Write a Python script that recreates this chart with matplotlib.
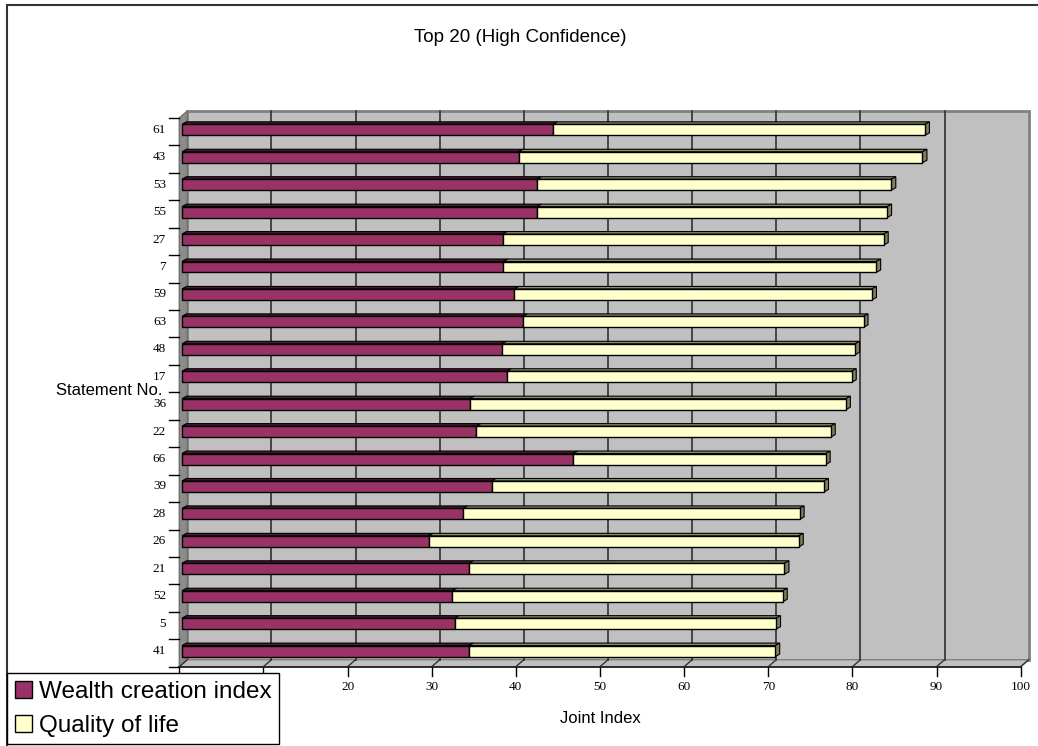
import matplotlib
matplotlib.use('Agg')
import matplotlib.pyplot as plt
import matplotlib.transforms as mtransforms
from matplotlib.patches import Polygon, Rectangle, Patch
import numpy as np

plt.rcParams['font.family'] = ['Liberation Sans', 'DejaVu Sans']

# data (top bar first)
statements = ['61', '43', '53', '55', '27', '7', '59', '63', '48', '17',
              '36', '22', '66', '39', '28', '26', '21', '52', '5', '41']
wealth = [44.1, 40.0, 42.2, 42.2, 38.1, 38.2, 39.5, 40.5, 38.0, 38.6,
          34.2, 35.0, 46.5, 36.8, 33.4, 29.3, 34.1, 32.1, 32.4, 34.1]
joint = [88.3, 88.0, 84.3, 83.8, 83.4, 82.5, 82.0, 81.0, 80.0, 79.6,
         78.9, 77.1, 76.5, 76.3, 73.4, 73.3, 71.6, 71.4, 70.6, 70.5]
quality = [j - w for j, w in zip(joint, wealth)]
xticks = list(range(0, 101, 10))
# 0 and 10 sit under the legend box in the original
xlabels = ['', '', '20', '30', '40', '50', '60', '70', '80', '90', '100']
series_names = ['Wealth creation index', 'Quality of life']

c_wealth = '#993366'
c_quality = '#ffffcc'

W, H = 1038, 746
fig = plt.figure(figsize=(W / 100, H / 100), dpi=100)

# front plane of the 3d box, in pixels
L, R, T, B = 179.3, 1020.7, 118.0, 666.7
ax = fig.add_axes([L / W, (H - B) / H, (R - L) / W, (B - T) / H])
ax.set_xlim(0, 100)
ax.set_ylim(0, len(statements))
ax.axis('off')

DEPTH = (8, 7)        # back wall offset
BF = (2.7, 1.9)       # bar front face offset
BB = (7.2, 4.4)       # bar back face offset
ident = mtransforms.IdentityTransform()


def shift(dx, dy):
    return ax.transData + mtransforms.ScaledTranslation(dx / 100, dy / 100, fig.dpi_scale_trans)


def px(x, y, dx=0, dy=0):
    p = ax.transData.transform((x, y))
    return (p[0] + dx, p[1] + dy)


def poly(pts, fc, ec, lw=1.0, z=1):
    ax.add_patch(Polygon(pts, closed=True, fc=fc, ec=ec, lw=lw, transform=ident,
                         clip_on=False, zorder=z))


n = len(statements)
# walls and floor
poly([px(0, 0, *DEPTH), px(100, 0, *DEPTH), px(100, n, *DEPTH), px(0, n, *DEPTH)],
     '#c0c0c0', '#808080', 2)
poly([px(0, 0), px(0, n), px(0, n, *DEPTH), px(0, 0, *DEPTH)], '#8c8c8c', '#707070', 1)
poly([px(0, 0), px(100, 0), px(100, 0, *DEPTH), px(0, 0, *DEPTH)], '#c0c0c0', '#808080', 1)

for x in xticks[1:-1]:
    ax.plot([x, x], [0, n], transform=shift(*DEPTH), color='#3c3c3c', lw=1.3,
            clip_on=False, zorder=1.5)
for x, lab in zip(xticks, xlabels):
    a, b = px(x, 0), px(x, 0, *DEPTH)
    ax.plot([a[0], b[0]], [a[1], b[1]], transform=ident, color='#333333', lw=1, clip_on=False, zorder=2)
    c = px(x, 0, 0, -9)
    ax.plot([a[0], c[0]], [a[1], c[1]], transform=ident, color='black', lw=1, clip_on=False, zorder=2)
    if lab:
        ax.text(x, 0, lab, transform=shift(0, -23.3), ha='center', va='baseline',
                family='Liberation Serif', fontsize=9.5)
ax.plot([0, 100], [0, 0], color='#222222', lw=1.3, clip_on=False, zorder=2)

# category axis
for k in range(n + 1):
    a, b = px(0, k, -10, 0), px(0, k)
    ax.plot([a[0], b[0]], [a[1], b[1]], transform=ident, color='black', lw=1, clip_on=False, zorder=2)

ypos = np.arange(n)[::-1] + 0.5
h = 0.4
for i, lab in enumerate(statements):
    ax.text(0, ypos[i], lab, transform=shift(-13.3, BF[1]), ha='right', va='center',
            family='Liberation Serif', fontsize=9.5)

# bars
ax.barh(ypos, wealth, height=h, color=c_wealth, edgecolor='black', lw=1,
        transform=shift(*BF), clip_on=False, zorder=4)
ax.barh(ypos, quality, left=wealth, height=h, color=c_quality, edgecolor='black', lw=1,
        transform=shift(*BF), clip_on=False, zorder=4)
for y, w, j in zip(ypos, wealth, joint):
    yt = y + h / 2
    poly([px(0, yt, *BF), px(w, yt, *BF), px(w, yt, *BB), px(0, yt, *BB)], '#4d1a33', 'black', 0.8, 3)
    poly([px(w, yt, *BF), px(j, yt, *BF), px(j, yt, *BB), px(w, yt, *BB)], '#8c8c70', 'black', 0.8, 3)
    poly([px(j, y - h / 2, *BF), px(j, yt, *BF), px(j, yt, *BB), px(j, y - h / 2, *BB)],
         '#808060', 'black', 0.8, 3)

fig.text(520 / W, 1 - 42.3 / H, 'Top 20 (High Confidence)', ha='center', va='baseline', fontsize=13.5)
fig.text(162 / W, 1 - 395 / H, 'Statement No.', ha='right', va='baseline', fontsize=12)
fig.text(600 / W, 1 - 722.7 / H, 'Joint Index', ha='center', va='baseline', fontsize=12)

fig.add_artist(Rectangle((7.3 / W, -0.1), 1.2, 1 - 4.7 / H + 0.1, transform=fig.transFigure,
                         fill=False, ec='#333333', lw=1.5))

handles = [Patch(fc=c_wealth, ec='black'), Patch(fc=c_quality, ec='black')]
leg = fig.legend(handles, series_names, loc='upper left', bbox_to_anchor=(7.3 / W, 1 - 673.3 / H),
                 fontsize=17.5, frameon=True, fancybox=False, edgecolor='black', framealpha=1,
                 borderaxespad=0, borderpad=0.3, handlelength=0.7, handleheight=0.7,
                 handletextpad=0.3, labelspacing=0.5)
leg.get_frame().set_linewidth(1)
leg.set_zorder(10)

fig.savefig('out.png', dpi=100)
